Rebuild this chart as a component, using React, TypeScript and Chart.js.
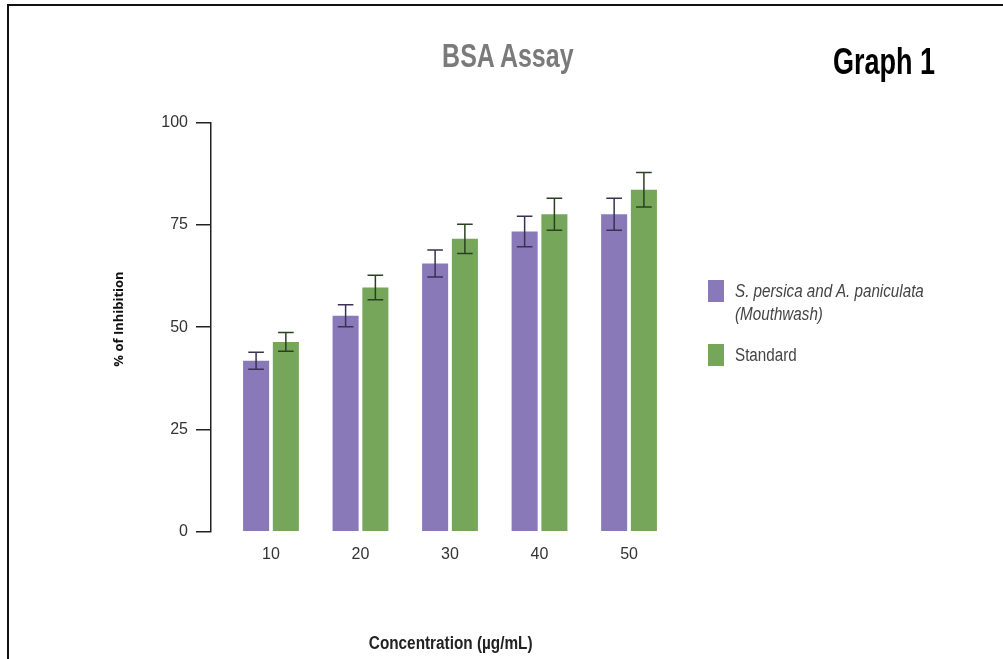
import React, { useEffect, useRef } from "react";
import { Chart, registerables } from "chart.js";

Chart.register(...registerables);

// ---- data ----
const concentrations = [10, 20, 30, 40, 50];
const mouthwashValues = [41.8, 52.8, 65.6, 73.4, 77.6];
const mouthwashErrors = [2.1, 2.7, 3.3, 3.7, 3.9];
const standardValues = [46.4, 59.7, 71.6, 77.6, 83.6];
const standardErrors = [2.3, 3.0, 3.6, 3.9, 4.2];
const yTickValues = [0, 25, 50, 75, 100];
const mouthwashLabel = ["S. persica and A. paniculata", "(Mouthwash)"];
const standardLabel = ["Standard"];
const chartTitle = "BSA Assay";
const graphTag = "Graph 1";
const xAxisTitle = "Concentration (µg/mL)";
const yAxisTitle = "% of Inhibition";

const seriesValues = [mouthwashValues, standardValues];
const seriesErrors = [mouthwashErrors, standardErrors];
const seriesLabels = [mouthwashLabel, standardLabel];
const seriesItalic = [true, false];
const barColors = ["#8979b9", "#75a659"];
const errorColors = ["#3a3154", "#2a4120"];

const SANS = "'Liberation Sans', Arial, sans-serif";

const errorBarPlugin = {
  id: "errorBars",
  afterDatasetsDraw(chart: any) {
    const { ctx } = chart;
    const yScale = chart.scales.y;
    seriesErrors.forEach((errs, di) => {
      const meta = chart.getDatasetMeta(di);
      const vals = seriesValues[di];
      ctx.save();
      ctx.strokeStyle = errorColors[di];
      ctx.lineWidth = 1.5;
      meta.data.forEach((bar: any, i: number) => {
        const x = bar.x;
        const yTop = yScale.getPixelForValue(vals[i] + errs[i]);
        const yBot = yScale.getPixelForValue(vals[i] - errs[i]);
        const half = bar.width * 0.3;
        ctx.beginPath();
        ctx.moveTo(x, yTop);
        ctx.lineTo(x, yBot);
        ctx.moveTo(x - half, yTop);
        ctx.lineTo(x + half, yTop);
        ctx.moveTo(x - half, yBot);
        ctx.lineTo(x + half, yBot);
        ctx.stroke();
      });
      ctx.restore();
    });
  },
};

function CenteredText(props: {
  cx: number;
  top: number;
  size: number;
  weight?: string;
  color: string;
  scale: number;
  text: string;
}) {
  const { cx, top, size, weight, color, scale, text } = props;
  return (
    <div
      style={{
        position: "absolute",
        left: cx - 300,
        top,
        width: 600,
        textAlign: "center",
        fontFamily: SANS,
        fontSize: size,
        fontWeight: weight || "normal",
        lineHeight: `${size}px`,
        color,
        whiteSpace: "nowrap",
      }}
    >
      <span
        style={{
          display: "inline-block",
          transform: `scaleX(${scale})`,
          transformOrigin: "center",
        }}
      >
        {text}
      </span>
    </div>
  );
}

export default function App() {
  const ref = useRef<HTMLCanvasElement>(null);

  useEffect(() => {
    const chart = new Chart(ref.current as HTMLCanvasElement, {
      type: "bar",
      data: {
        datasets: seriesValues.map((vals, di) => ({
          label: seriesLabels[di].join(" "),
          data: vals.map((v, i) => ({ x: concentrations[i], y: v })),
          backgroundColor: barColors[di],
          borderWidth: 0,
          categoryPercentage: 0.665,
          barPercentage: 0.875,
        })),
      },
      options: {
        animation: false,
        responsive: false,
        events: [],
        layout: { padding: { left: 0, right: 314, top: 122.7, bottom: 0 } },
        plugins: {
          legend: { display: false },
          tooltip: { enabled: false },
          title: { display: false },
        },
        scales: {
          x: {
            type: "linear",
            min: 3.3,
            max: 56.7,
            offset: false,
            afterBuildTicks: (s: any) => {
              s.ticks = concentrations.map((v) => ({ value: v }));
            },
            afterFit: (s: any) => {
              s.height = 127.3;
            },
            grid: { display: false, drawTicks: false, offset: false },
            border: { display: false },
            ticks: {
              color: "#333",
              font: { family: SANS, size: 16 },
              padding: 13,
              maxRotation: 0,
              autoSkip: false,
              callback: (v: any) => String(v),
            },
          },
          y: {
            type: "linear",
            position: "left",
            min: 0,
            max: 100,
            afterBuildTicks: (s: any) => {
              s.ticks = yTickValues.map((v) => ({ value: v }));
            },
            afterFit: (s: any) => {
              s.width = 211;
            },
            grid: {
              display: true,
              drawOnChartArea: false,
              drawTicks: true,
              tickLength: 15,
              color: "#222",
              lineWidth: 1.5,
            },
            border: { display: true, color: "#222", width: 1.5 },
            ticks: {
              color: "#333",
              font: { family: SANS, size: 16 },
              padding: 8,
            },
          },
        },
      } as any,
      plugins: [errorBarPlugin],
    });
    return () => {
      chart.destroy();
    };
  }, []);

  return (
    <div
      style={{
        position: "fixed",
        left: 0,
        top: 0,
        width: 1003,
        height: 659,
        overflow: "hidden",
        background: "#fff",
      }}
    >
      <canvas
        ref={ref}
        width={1003}
        height={659}
        style={{ position: "absolute", left: 0, top: 0, width: 1003, height: 659 }}
      />
      <div
        style={{
          position: "absolute",
          left: 7,
          top: 4,
          width: 1100,
          height: 800,
          borderTop: "2px solid #111",
          borderLeft: "2px solid #111",
          boxSizing: "border-box",
          pointerEvents: "none",
        }}
      />
      <CenteredText cx={508.3} top={38.8} size={33} weight="bold" color="#7a7a7a" scale={0.757} text={chartTitle} />
      <CenteredText cx={883.5} top={44.1} size={36.5} weight="bold" color="#000" scale={0.74} text={graphTag} />
      <CenteredText cx={450.5} top={633.8} size={18.3} weight="bold" color="#222" scale={0.838} text={xAxisTitle} />
      <div
        style={{
          position: "absolute",
          left: 118 - 150,
          top: 319 - 8,
          width: 300,
          height: 16,
          textAlign: "center",
          fontFamily: "'Open Sans', 'DejaVu Sans', sans-serif",
          fontWeight: "bold",
          fontSize: 13,
          lineHeight: "16px",
          color: "#111",
          whiteSpace: "nowrap",
          transform: "rotate(-90deg)",
          transformOrigin: "center",
        }}
      >
        {yAxisTitle}
      </div>
      {seriesLabels.map((lines, di) => (
        <div
          key={di}
          style={{
            position: "absolute",
            left: 708,
            top: di === 0 ? 280 : 344,
            display: "flex",
            alignItems: "flex-start",
          }}
        >
          <div style={{ width: 16, height: 22, background: barColors[di], flex: "none" }} />
          <div
            style={{
              marginLeft: 11,
              fontFamily: SANS,
              fontSize: 18,
              lineHeight: "23px",
              fontStyle: seriesItalic[di] ? "italic" : "normal",
              color: "#444",
              whiteSpace: "nowrap",
              transform: "scaleX(0.845)",
              transformOrigin: "left center",
            }}
          >
            {lines.map((l, k) => (
              <div key={k}>{l}</div>
            ))}
          </div>
        </div>
      ))}
    </div>
  );
}
